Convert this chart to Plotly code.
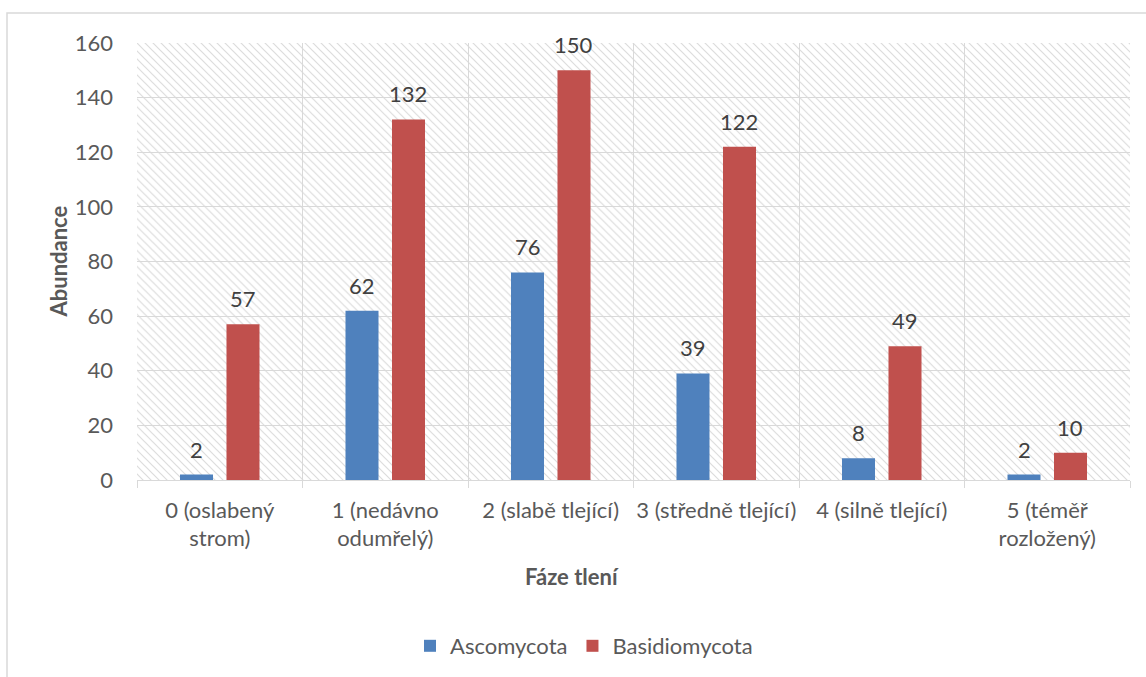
import base64
import plotly.graph_objects as go

categories = ["0 (oslabený<br>strom)", "1 (nedávno<br>odumřelý)", "2 (slabě tlející)",
              "3 (středně tlející)", "4 (silně tlející)", "5 (téměř<br>rozložený)"]
ascomycota = [2, 62, 76, 39, 8, 2]
basidiomycota = [57, 132, 150, 122, 49, 10]
series_names = ["Ascomycota", "Basidiomycota"]
y_ticks = [0, 20, 40, 60, 80, 100, 120, 140, 160]

FONT = "Lato"
TXT = "#595959"
GRID = "#d9d9d9"
BLUE = "#4F81BD"
RED = "#C0504D"
FS = 22

W, H = 1146, 677
L, R, T, B = 137, 16, 43, 196
PW, PH = W - L - R, H - T - B

# hatched plot-area background (decoration)
svg = (
    f'<svg xmlns="http://www.w3.org/2000/svg" width="{PW}" height="{PH}" '
    f'viewBox="0 0 {PW} {PH}" preserveAspectRatio="none">'
    '<defs><pattern id="p" width="8" height="8" patternUnits="userSpaceOnUse">'
    '<path d="M-2,-2 L10,10 M-2,6 L2,10 M6,-2 L10,2" stroke="#dcdcdc" stroke-width="1.2"/>'
    '</pattern></defs>'
    f'<rect width="{PW}" height="{PH}" fill="white"/>'
    f'<rect width="{PW}" height="{PH}" fill="url(#p)"/></svg>'
)
src = "data:image/svg+xml;base64," + base64.b64encode(svg.encode()).decode()

fig = go.Figure()
fig.add_trace(go.Bar(x=categories, y=ascomycota, name=series_names[0],
                     marker=dict(color=BLUE, line=dict(width=0))))
fig.add_trace(go.Bar(x=categories, y=basidiomycota, name=series_names[1],
                     marker=dict(color=RED, line=dict(width=0))))

annotations = []
for vals, dx in ((ascomycota, -23), (basidiomycota, 23)):
    for c, v in zip(categories, vals):
        annotations.append(dict(x=c, y=v, xref="x", yref="y", text=str(v), showarrow=False,
                                xshift=dx, yshift=10, yanchor="bottom",
                                font=dict(family=FONT, size=FS, color="#404040")))

annotations.append(dict(text="<b>Fáze tlení</b>", xref="paper", yref="paper",
                        x=(572 - L) / PW, y=(T + PH - 578) / PH, showarrow=False,
                        xanchor="center", yanchor="middle",
                        font=dict(family=FONT, size=FS, color=TXT)))
annotations.append(dict(text="<b>Abundance</b>", xref="paper", yref="paper",
                        x=(58 - L) / PW, y=0.5, showarrow=False, textangle=-90,
                        xanchor="center", yanchor="middle",
                        font=dict(family=FONT, size=FS, color=TXT)))

fig.update_layout(
    width=W, height=H,
    margin=dict(l=L, r=R, t=T, b=B, pad=0),
    paper_bgcolor="white", plot_bgcolor="rgba(0,0,0,0)",
    barmode="group", bargap=0.438, bargroupgap=0.29,
    font=dict(family=FONT, size=FS, color=TXT),
    showlegend=True,
    legend=dict(orientation="h", x=(584 - L) / PW, xanchor="center",
                y=(T + PH - 646) / PH, yanchor="middle",
                font=dict(family=FONT, size=FS, color=TXT),
                itemwidth=30, bgcolor="rgba(0,0,0,0)"),
    annotations=annotations,
    images=[dict(source=src, xref="paper", yref="paper", x=0, y=1, sizex=1, sizey=1,
                 xanchor="left", yanchor="top", sizing="stretch", layer="below")],
    shapes=[dict(type="rect", xref="paper", yref="paper",
                 x0=(7 - L) / PW, x1=(W + 20 - L) / PW,
                 y0=(T + PH - (H + 20)) / PH, y1=(T + PH - 13) / PH,
                 line=dict(color=GRID, width=1.5), fillcolor="rgba(0,0,0,0)", layer="below")],
)
fig.update_xaxes(type="category", tickson="boundaries", showgrid=True, gridcolor=GRID,
                 gridwidth=1.3, ticks="outside", ticklen=7, tickcolor=GRID, tickwidth=1.3,
                 showline=True, linecolor=GRID, linewidth=1.3, tickangle=0,
                 tickfont=dict(family=FONT, size=FS, color=TXT), ticklabelstandoff=10)
fig.update_yaxes(range=[0, 160], tickvals=y_ticks, showgrid=True, gridcolor=GRID, gridwidth=1.3,
                 zeroline=False, showline=False, ticks="", ticklabelstandoff=23,
                 tickfont=dict(family=FONT, size=FS, color=TXT))

fig.write_html("out.html")
